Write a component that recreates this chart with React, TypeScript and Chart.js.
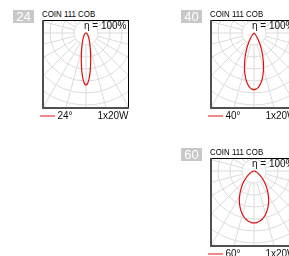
import React, { useEffect, useRef } from "react";
import { Chart, registerables } from "chart.js";

Chart.register(...registerables);

// polar angles from nadir (degrees), used symmetrically on both sides
const ANGLES = [0, 2, 4, 6, 8, 10, 12, 15, 20, 25, 30, 35, 40, 45, 50, 55, 60, 65, 70, 75, 80, 85, 90];
// relative luminous intensity, in grid-ring units
const BEAM_24 = [4.33, 4.18, 3.78, 3.26, 2.73, 2.26, 1.86, 1.4, 0.91, 0.63, 0.45, 0.33, 0.25, 0.19, 0.15, 0.12, 0.09, 0.07, 0.055, 0.04, 0.025, 0.012, 0];
const BEAM_40 = [4.72, 4.68, 4.58, 4.41, 4.18, 3.9, 3.58, 3.07, 2.19, 1.43, 0.84, 0.45, 0.22, 0.1, 0.04, 0.01, 0, 0, 0, 0, 0, 0, 0];
const BEAM_60 = [4.33, 4.32, 4.28, 4.23, 4.15, 4.06, 3.94, 3.74, 3.33, 2.88, 2.4, 1.94, 1.52, 1.15, 0.84, 0.6, 0.41, 0.27, 0.17, 0.11, 0.07, 0.04, 0];

const BEAM_LABELS = ["24", "40", "60"];
const PRODUCT = "COIN 111 COB";
const EFFICIENCY = "η = 100%";
const POWER = "1x20W";

// polar grid
const RINGS = [1, 2, 3, 4, 5, 6, 7, 8];
const SPOKES = [0, 15, 30, 45, 60, 75, 90, 105, 120, 135, 150, 165, 180, 195, 210, 225, 240, 255, 270, 285, 300, 315, 330, 345];

const X_MIN = -3.5;
const X_MAX = 3.5;
const Y_MIN = -6.1667;
const Y_MAX = 1;

const FONT = "'Liberation Sans', Arial, Helvetica, sans-serif";

const polarGrid = {
  id: "polarGrid",
  beforeDatasetsDraw(chart: any) {
    const { ctx, chartArea, scales } = chart;
    const cx = scales.x.getPixelForValue(0);
    const cy = scales.y.getPixelForValue(0);
    const unit = scales.x.getPixelForValue(1) - cx;
    ctx.save();
    ctx.beginPath();
    ctx.rect(chartArea.left, chartArea.top, chartArea.right - chartArea.left, chartArea.bottom - chartArea.top);
    ctx.clip();
    ctx.strokeStyle = "#dcdcdc";
    ctx.lineWidth = 1;
    RINGS.forEach((r) => {
      ctx.beginPath();
      ctx.arc(cx, cy, r * unit, 0, Math.PI * 2);
      ctx.stroke();
    });
    const r0 = RINGS[0] * unit;
    const r1 = RINGS[RINGS.length - 1] * unit;
    SPOKES.forEach((a) => {
      const t = (a * Math.PI) / 180;
      ctx.beginPath();
      ctx.moveTo(cx + r0 * Math.sin(t), cy + r0 * Math.cos(t));
      ctx.lineTo(cx + r1 * Math.sin(t), cy + r1 * Math.cos(t));
      ctx.stroke();
    });
    ctx.restore();
  },
};

const frame = {
  id: "frame",
  afterDraw(chart: any) {
    const { ctx, width, height } = chart;
    ctx.save();
    ctx.fillStyle = "#000000";
    ctx.fillRect(0, 0, width, 1);
    ctx.fillRect(width - 1, 0, 1, height);
    ctx.fillStyle = "#505050";
    ctx.fillRect(0, 0, 2, height);
    ctx.fillRect(0, height - 2, width, 2);
    ctx.restore();
  },
};

function PolarPanel({ values, label, left, top }: { values: number[]; label: string; left: number; top: number }) {
  const ref = useRef<HTMLCanvasElement | null>(null);
  useEffect(() => {
    if (!ref.current) return;
    const pts: { x: number; y: number }[] = [];
    for (let i = ANGLES.length - 1; i >= 0; i--) {
      const t = (-ANGLES[i] * Math.PI) / 180;
      pts.push({ x: values[i] * Math.sin(t), y: -values[i] * Math.cos(t) });
    }
    for (let i = 1; i < ANGLES.length; i++) {
      const t = (ANGLES[i] * Math.PI) / 180;
      pts.push({ x: values[i] * Math.sin(t), y: -values[i] * Math.cos(t) });
    }
    const chart = new Chart(ref.current, {
      type: "scatter",
      data: {
        datasets: [
          {
            data: pts,
            showLine: true,
            borderColor: "#e01010",
            borderWidth: 1.2,
            pointRadius: 0,
            tension: 0.3,
            fill: false,
          },
        ],
      },
      options: {
        responsive: false,
        animation: false,
        layout: { padding: { left: 2, top: 1, right: 1, bottom: 2 } },
        plugins: { legend: { display: false }, tooltip: { enabled: false }, title: { display: false } },
        scales: {
          x: { type: "linear", display: false, min: X_MIN, max: X_MAX },
          y: { type: "linear", display: false, min: Y_MIN, max: Y_MAX },
        },
      },
      plugins: [polarGrid, frame],
    });
    return () => chart.destroy();
  }, [values]);

  const txt = (s: React.CSSProperties): React.CSSProperties => ({
    position: "absolute",
    fontFamily: FONT,
    whiteSpace: "nowrap",
    color: "#111",
    ...s,
  });

  return (
    <div style={{ position: "absolute", left, top, width: 140, height: 130 }}>
      <div style={{ position: "absolute", left: 13, top: 10, width: 21, height: 13, background: "#c8c8c8" }} />
      <div style={txt({ left: 13, width: 21, top: 9.7, fontSize: 13, lineHeight: "13px", color: "#fff", textAlign: "center" })}>{label}</div>
      <div
        style={txt({
          left: 42,
          top: 8.7,
          fontSize: 9.5,
          lineHeight: "9.5px",
          color: "#000",
          transform: "scaleX(0.83)",
          transformOrigin: "0 0",
        })}
      >
        {PRODUCT}
      </div>
      <canvas ref={ref} width={87} height={89} style={{ position: "absolute", left: 42, top: 20, width: 87, height: 89 }} />
      <div style={txt({ right: 140 - 126.5, top: 21, fontSize: 10, lineHeight: "10px" })}>{EFFICIENCY}</div>
      <div style={{ position: "absolute", left: 40, top: 115, width: 15, height: 2, background: "#f08a8a" }} />
      <div style={txt({ left: 57.5, top: 110.8, fontSize: 10, lineHeight: "10px" })}>{label + "°"}</div>
      <div style={txt({ right: 140 - 128.5, top: 110.8, fontSize: 10, lineHeight: "10px" })}>{POWER}</div>
    </div>
  );
}

export default function App() {
  return (
    <div style={{ position: "fixed", left: 0, top: 0, width: 289, height: 256, overflow: "hidden", background: "#fff" }}>
      <PolarPanel values={BEAM_24} label={BEAM_LABELS[0]} left={0} top={0} />
      <PolarPanel values={BEAM_40} label={BEAM_LABELS[1]} left={168} top={0} />
      <PolarPanel values={BEAM_60} label={BEAM_LABELS[2]} left={168} top={138} />
    </div>
  );
}
